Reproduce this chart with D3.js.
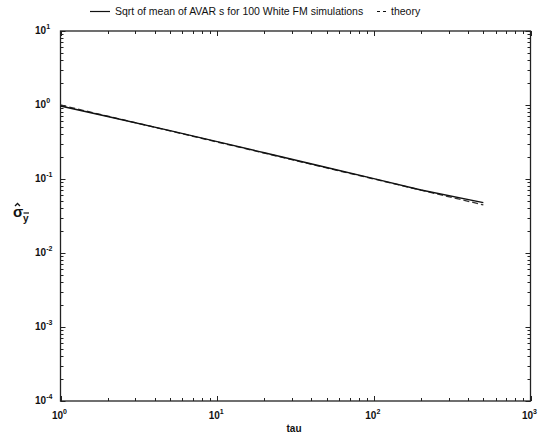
<!DOCTYPE html>
<html>
<head>
<meta charset="utf-8">
<script src="https://cdn.jsdelivr.net/npm/d3@7"></script>
<style>
    body { margin: 0; background: #fff; }
    svg text { font-family: "Liberation Sans", Arial, sans-serif; fill: #111; }
</style>
</head>
<body>
<div id="chart"></div>
<script>
// averaging times (tau) and the values
var tauValues = [1, 2, 5, 10, 20, 50, 100, 200, 500];
var simValues = [0.97, 0.70, 0.45, 0.32, 0.226, 0.143, 0.101, 0.071, 0.048];
var theoryValues = [1.0, 0.707, 0.447, 0.316, 0.224, 0.141, 0.100, 0.0707, 0.0447];
var xTickExps = [0, 1, 2, 3];
var yTickExps = [1, 0, -1, -2, -3, -4];
var legendLabels = ["Sqrt of mean of AVAR s for 100 White FM simulations", "theory"];

var width = 546, height = 444;
var margin = {top: 31, right: 15.5, bottom: 43, left: 60.5};

var svg = d3.select("#chart")
    .append("svg")
    .attr("width", width)
    .attr("height", height);

var x = d3.scaleLog()
    .domain([1, 1000])
    .range([margin.left, width - margin.right]);

var y = d3.scaleLog()
    .domain([1e-4, 10])
    .range([height - margin.bottom, margin.top]);

var x0 = x.range()[0], x1 = x.range()[1];
var y0 = y.range()[0], y1 = y.range()[1];

// minor + major ticks (log style), drawn inward on all four sides
var xTicks = x.ticks();
var yTicks = y.ticks();
var g = svg.append("g").attr("stroke", "#222").attr("stroke-width", 1);

xTicks.forEach(function(t) {
    var major = Math.abs(Math.log10(t) - Math.round(Math.log10(t))) < 1e-9;
    var len = major ? 5 : 3;
    var px = Math.round(x(t)) + 0.5;
    g.append("line").attr("x1", px).attr("x2", px).attr("y1", y0).attr("y2", y0 - len);
    g.append("line").attr("x1", px).attr("x2", px).attr("y1", y1).attr("y2", y1 + len);
});
yTicks.forEach(function(t) {
    var major = Math.abs(Math.log10(t) - Math.round(Math.log10(t))) < 1e-9;
    var len = major ? 5 : 3;
    var py = Math.round(y(t)) + 0.5;
    g.append("line").attr("x1", x0).attr("x2", x0 + len).attr("y1", py).attr("y2", py);
    g.append("line").attr("x1", x1).attr("x2", x1 - len).attr("y1", py).attr("y2", py);
});

// axes box
svg.append("rect")
    .attr("x", x0)
    .attr("y", y1)
    .attr("width", x1 - x0)
    .attr("height", y0 - y1)
    .attr("fill", "none")
    .attr("stroke", "#222")
    .attr("stroke-width", 1.3);

// x tick labels 10^n
var xl = svg.selectAll(".xlab")
    .data(xTickExps)
    .enter().append("text")
    .attr("class", "xlab")
    .attr("x", function(d) { return x(Math.pow(10, d)) - 1; })
    .attr("y", 419)
    .attr("text-anchor", "middle")
    .style("font-size", "10px")
    .style("font-weight", "bold");
xl.append("tspan").text("10");
xl.append("tspan").attr("dy", -5).style("font-size", "7px").text(function(d) { return d; });

// y tick labels 10^n
var yl = svg.selectAll(".ylab")
    .data(yTickExps)
    .enter().append("text")
    .attr("class", "ylab")
    .attr("x", 35)
    .attr("y", function(d) { return y(Math.pow(10, d)) + 3; })
    .style("font-size", "10px")
    .style("font-weight", "bold");
yl.append("tspan").text("10");
yl.append("tspan").attr("dy", -5).style("font-size", "7px").text(function(d) { return d; });

// axis labels
svg.append("text")
    .attr("x", 294)
    .attr("y", 432)
    .attr("text-anchor", "middle")
    .style("font-size", "10px")
    .style("font-weight", "bold")
    .text("tau");

// sigma-hat with y-bar subscript (hat and bar drawn as strokes)
var ylab = svg.append("g").attr("transform", "translate(13,217)");
ylab.append("text").attr("x", 0).attr("y", 0)
    .style("font-size", "15px").style("font-weight", "bold")
    .text("\u03C3");
ylab.append("path").attr("d", "M2,-11 L4.5,-13.5 L7,-11")
    .attr("fill", "none").attr("stroke", "#111").attr("stroke-width", 1.3);
ylab.append("text").attr("x", 10).attr("y", 5)
    .style("font-size", "10px").style("font-weight", "bold")
    .text("y");
ylab.append("line").attr("x1", 10.5).attr("x2", 16).attr("y1", -4).attr("y2", -4)
    .attr("stroke", "#111").attr("stroke-width", 1.2);

// data lines
var line = d3.line()
    .x(function(d) { return x(d[0]); })
    .y(function(d) { return y(d[1]); });

svg.append("path")
    .datum(d3.zip(tauValues, theoryValues))
    .attr("fill", "none")
    .attr("stroke", "#333")
    .attr("stroke-width", 1.3)
    .attr("stroke-dasharray", "6,3")
    .attr("d", line);

svg.append("path")
    .datum(d3.zip(tauValues, simValues))
    .attr("fill", "none")
    .attr("stroke", "#111")
    .attr("stroke-width", 1.4)
    .attr("d", line);

// legend above the plot
var leg = svg.append("g").attr("transform", "translate(90,15)");
leg.append("line").attr("x1", 0).attr("x2", 20).attr("y1", -3.5).attr("y2", -3.5)
    .attr("stroke", "#111").attr("stroke-width", 1.2);
leg.append("text").attr("x", 25).attr("y", 0)
    .style("font-size", "10.5px")
    .text(legendLabels[0]);
leg.append("line").attr("x1", 287).attr("x2", 299).attr("y1", -3.5).attr("y2", -3.5)
    .attr("stroke", "#111").attr("stroke-width", 1.2).attr("stroke-dasharray", "3,3");
leg.append("text").attr("x", 301).attr("y", 0)
    .style("font-size", "10.5px")
    .text(legendLabels[1]);
</script>
</body>
</html>
